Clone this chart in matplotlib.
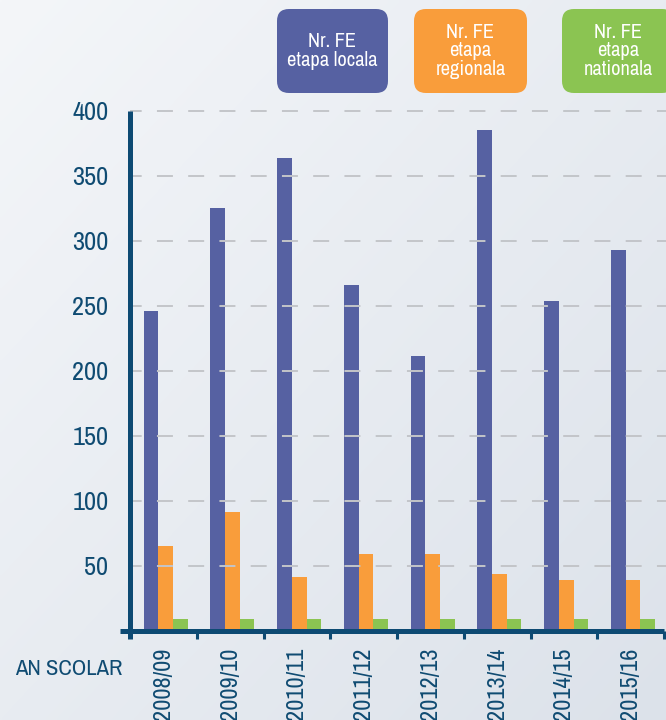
import matplotlib
matplotlib.use("Agg")
import matplotlib.pyplot as plt
import numpy as np
from matplotlib.patches import FancyBboxPatch

# ---- data ----
years = ["2008/09", "2009/10", "2010/11", "2011/12", "2012/13", "2013/14", "2014/15", "2015/16"]
local = [246, 325, 364, 266, 211, 385, 254, 293]
regional = [65, 91, 41, 59, 59, 44, 39, 39]
national = [9, 9, 9, 9, 9, 9, 9, 9]
series_labels = ["Nr. FE\netapa locala", "Nr. FE\netapa\nregionala", "Nr. FE\netapa\nnationala"]
yticks = [50, 100, 150, 200, 250, 300, 350, 400]
xlabel_text = "AN SCOLAR"

# ---- style ----
C_BLUE = "#5661a2"
C_ORANGE = "#f99d3b"
C_GREEN = "#8bc452"
C_AXIS = "#0d4a73"
C_TEXT = "#0f4b72"
FONT = ["Archivo Narrow", "DejaVu Sans"]
plt.rcParams["font.family"] = FONT
plt.rcParams["lines.scale_dashes"] = False

W, H = 666, 720
fig = plt.figure(figsize=(W / 100, H / 100), dpi=100)

# background gradient
bg = fig.add_axes([0, 0, 1, 1], zorder=-10)
xx, yy = np.meshgrid(np.linspace(0, 1, 200), np.linspace(0, 1, 200))
t = (xx * 0.5 + yy * 0.5)
c0 = np.array([0xf4, 0xf6, 0xf9]) / 255
c1 = np.array([0xdc, 0xe2, 0xea]) / 255
img = c0[None, None, :] * (1 - t[..., None]) + c1[None, None, :] * t[..., None]
bg.imshow(img, aspect="auto", extent=[0, 1, 1, 0], interpolation="bilinear")
bg.set_axis_off()

def px(x0, y0, x1, y1):
    return [x0 / W, 1 - y1 / H, (x1 - x0) / W, (y1 - y0) / H]

ax = fig.add_axes(px(130, 110.7, 664, 630.7))
ax.patch.set_alpha(0)

x = np.arange(len(years))
bw = 0.22
off = 0.035
ax.bar(x + off - bw, local, bw, color=C_BLUE, zorder=2)
ax.bar(x + off, regional, bw, color=C_ORANGE, zorder=2)
ax.bar(x + off + bw, national, bw, color=C_GREEN, zorder=2)

ax.set_xlim(-0.5, len(years) - 0.5)
ax.set_ylim(0, 400)

for s in ax.spines.values():
    s.set_visible(False)

# grid on top of bars
for v in yticks:
    ax.axhline(v, color="#c3c5c9", lw=1.4, zorder=3,
               linestyle=(3.1, (11.5, 11.0)), xmax=1.01, clip_on=False)

# axes lines
ax.plot([0, 0], [-8.3 / 520, 1], transform=ax.transAxes, color=C_AXIS, lw=3.6,
        solid_capstyle="butt", clip_on=False, zorder=5)
ax.plot([-10 / 534, 1.0], [0.0, 0.0], transform=ax.transAxes, color=C_AXIS, lw=3.6,
        solid_capstyle="butt", clip_on=False, zorder=5)

ax.set_yticks(yticks)
ax.set_yticklabels([str(v) for v in yticks])
ax.tick_params(axis="y", length=0, pad=15.5, labelsize=19, labelcolor=C_TEXT)

ax.set_xticks(x)
ax.set_xticklabels(years, rotation=90, va="top", ha="center")
ax.tick_params(axis="x", which="major", length=0, pad=12, labelsize=17.5, labelcolor=C_TEXT)
ax.set_xticks(np.arange(0.5, len(years), 1.0), minor=True)
ax.tick_params(axis="x", which="minor", direction="out", length=6, width=2.2, color=C_AXIS)

fig.text(15 / W, 1 - 669 / H, xlabel_text, ha="left", va="center",
         fontsize=16.3, color=C_TEXT)

# legend boxes
ov = fig.add_axes([0, 0, 1, 1], zorder=10)
ov.set_xlim(0, W)
ov.set_ylim(H, 0)
ov.set_axis_off()
ov.patch.set_alpha(0)
boxes = [(277, 388), (414, 527), (562, 674)]
for (bx0, bx1), col, lab in zip(boxes, [C_BLUE, C_ORANGE, C_GREEN], series_labels):
    p = FancyBboxPatch((bx0, 9), bx1 - bx0, 84,
                       boxstyle="round,pad=0,rounding_size=12",
                       fc=col, ec="none", clip_on=False)
    ov.add_patch(p)
    ov.text((bx0 + bx1) / 2, 51, lab, ha="center", va="center", color="white",
            fontsize=14.7, linespacing=0.95, multialignment="center")

fig.savefig("out.png", dpi=100)
